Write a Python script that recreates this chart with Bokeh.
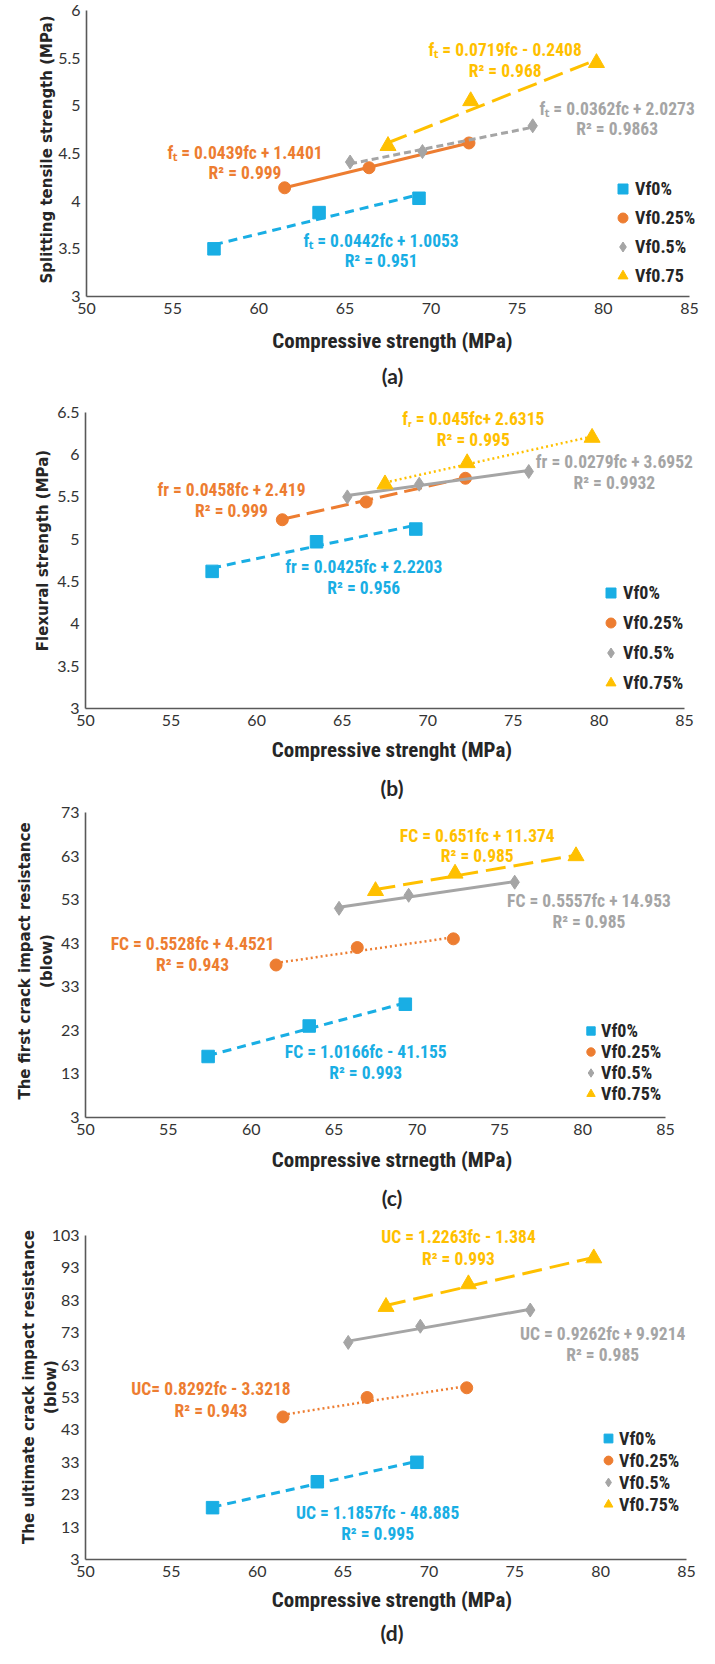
from bokeh.plotting import figure
from bokeh.models import Range1d, FixedTicker, Legend, LegendItem, Label, LinearAxis
from bokeh.embed import file_html
from bokeh.resources import INLINE

# ---------------- data ----------------
# compressive strength (MPa) for each fibre content
fc_vf0 = [57.4, 63.5, 69.3]
fc_vf025 = [61.5, 66.4, 72.2]
fc_vf05 = [65.3, 69.5, 75.9]
fc_vf075 = [67.5, 72.3, 79.6]

# (a) splitting tensile strength (MPa)
ft_vf0 = [3.50, 3.88, 4.03]
ft_vf025 = [4.14, 4.35, 4.61]
ft_vf05 = [4.41, 4.52, 4.79]
ft_vf075 = [4.58, 5.05, 5.45]
a_slopes = [0.0442, 0.0439, 0.0362, 0.0719]
a_intercepts = [1.0053, 1.4401, 2.0273, -0.2408]
a_eqs = ["f\u209c = 0.0442fc + 1.0053", "f\u209c = 0.0439fc + 1.4401",
         "f\u209c = 0.0362fc + 2.0273", "f\u209c = 0.0719fc - 0.2408"]
a_r2 = ["R\u00b2 = 0.951", "R\u00b2 = 0.999", "R\u00b2 = 0.9863", "R\u00b2 = 0.968"]
a_names = ["Vf0%", "Vf0.25%", "Vf0.5%", "Vf0.75"]
a_yticks = [3, 3.5, 4, 4.5, 5, 5.5, 6]

# (b) flexural strength (MPa)
fr_vf0 = [4.62, 4.97, 5.12]
fr_vf025 = [5.23, 5.44, 5.72]
fr_vf05 = [5.50, 5.65, 5.80]
fr_vf075 = [5.65, 5.90, 6.20]
b_slopes = [0.0425, 0.0458, 0.0279, 0.045]
b_intercepts = [2.2203, 2.419, 3.6952, 2.6315]
b_eqs = ["fr = 0.0425fc + 2.2203", "fr = 0.0458fc + 2.419",
         "fr = 0.0279fc + 3.6952", "f\u1d63 = 0.045fc+ 2.6315"]
b_r2 = ["R\u00b2 = 0.956", "R\u00b2 = 0.999", "R\u00b2 = 0.9932", "R\u00b2 = 0.995"]
b_yticks = [3, 3.5, 4, 4.5, 5, 5.5, 6, 6.5]

# (c) first crack impact resistance (blow)
fcr_vf0 = [17, 24, 29]
fcr_vf025 = [38, 42, 44]
fcr_vf05 = [51, 54, 57]
fcr_vf075 = [55, 59, 63]
c_slopes = [1.0166, 0.5528, 0.5557, 0.651]
c_intercepts = [-41.155, 4.4521, 14.953, 11.374]
c_eqs = ["FC = 1.0166fc - 41.155", "FC = 0.5528fc + 4.4521",
         "FC = 0.5557fc + 14.953", "FC = 0.651fc + 11.374"]
c_r2 = ["R\u00b2 = 0.993", "R\u00b2 = 0.943", "R\u00b2 = 0.985", "R\u00b2 = 0.985"]
c_yticks = [3, 13, 23, 33, 43, 53, 63, 73]

# (d) ultimate crack impact resistance (blow)
ucr_vf0 = [19, 27, 33]
ucr_vf025 = [47, 53, 56]
ucr_vf05 = [70, 75, 80]
ucr_vf075 = [81, 88, 96]
d_slopes = [1.1857, 0.8292, 0.9262, 1.2263]
d_intercepts = [-48.885, -3.3218, 9.9214, -1.384]
d_eqs = ["UC = 1.1857fc - 48.885", "UC= 0.8292fc - 3.3218",
         "UC = 0.9262fc + 9.9214", "UC = 1.2263fc - 1.384"]
d_r2 = ["R\u00b2 = 0.995", "R\u00b2 = 0.943", "R\u00b2 = 0.985", "R\u00b2 = 0.993"]
d_yticks = [3, 13, 23, 33, 43, 53, 63, 73, 83, 93, 103]

names = ["Vf0%", "Vf0.25%", "Vf0.5%", "Vf0.75%"]
x_ticks = [50, 55, 60, 65, 70, 75, 80, 85]

# ---------------- style ----------------
COLORS = ["#19AEE4", "#ED7D31", "#A5A5A5", "#FFC000"]
MARKERS = ["square", "circle", "diamond", "triangle"]
MSIZES = [12.5, 12, 14, 16]
NARROW = "Roboto Condensed, Lato"
TICK_FONT = "Lato"
YT_FONT = "DejaVu Sans"
FIG_W = 699
PAGE_M = 8

fcs = [fc_vf0, fc_vf025, fc_vf05, fc_vf075]


def panel(ys, slopes, intercepts, eqs, r2s, snames, dashes, widths, yticks,
          ytitle, xtitle, caption, lay, eq_pos, r2_dy, leg):
    # x: the axis runs 50..85, the frame continues a little to the right so
    # that the equation labels / legend are not clipped
    x0t, x1t = x_ticks[0], x_ticks[-1]
    frame_right = FIG_W - 1 + PAGE_M
    x_end = x1t + (frame_right - lay["px85"]) / (lay["px85"] - lay["px50"]) * (x1t - x0t)
    # y: the axis runs over the tick range, the frame continues upward
    y0t, y1t = yticks[0], yticks[-1]
    frame_top = lay["page_top"] + 2
    y_end = y1t + (lay["ft"] - frame_top) / (lay["fb"] - lay["ft"]) * (y1t - y0t)
    frame_h = lay["fb"] - frame_top
    bottom = lay["h"] - 2 - frame_h
    p = figure(width=FIG_W, height=lay["h"], x_range=Range1d(x0t, x_end),
               y_range=Range1d(y0t, y_end), output_backend="svg",
               toolbar_location=None, min_border_left=lay["px50"] - PAGE_M,
               min_border_right=1, min_border_top=2,
               min_border_bottom=bottom)
    p.outline_line_color = None
    p.grid.visible = False
    p.background_fill_color = "white"
    p.border_fill_color = "white"

    for ax in (p.xaxis[0], p.yaxis[0]):
        ax.major_tick_out = 0
        ax.major_tick_in = 0
        ax.minor_tick_out = 0
        ax.minor_tick_in = 0
        ax.axis_line_color = "#595959"
        ax.axis_line_width = 1.6
        ax.major_label_text_font = TICK_FONT
        ax.major_label_text_font_size = "16px"
        ax.major_label_text_color = "#333333"
        ax.axis_label_text_color = "#262626"
        ax.axis_label_text_font_style = "bold"
    p.xaxis.bounds = (x0t, x1t)
    p.yaxis.bounds = (y0t, y1t)
    p.xaxis.ticker = FixedTicker(ticks=x_ticks)
    p.yaxis.ticker = FixedTicker(ticks=yticks)
    p.yaxis.major_label_overrides = {t: f"{t:g}" for t in yticks}
    p.xaxis.major_label_standoff = 6
    p.yaxis.major_label_standoff = 6
    p.xaxis.axis_label = xtitle
    p.xaxis.axis_label_text_font = NARROW
    p.xaxis.axis_label_text_font_size = "21px"
    p.xaxis.axis_label_standoff = lay["xas"]
    p.yaxis.axis_label = ytitle
    p.yaxis.axis_label_text_font = YT_FONT
    p.yaxis.axis_label_text_font_size = "15px"
    p.yaxis.axis_label_standoff = lay["yas"]
    p.yaxis.axis_label_text_line_height = 1.2

    # caption "(a)" etc. as the label of a bare second axis below
    cap = LinearAxis(ticker=FixedTicker(ticks=[]), bounds=(x0t, x1t),
                     axis_line_color=None, major_tick_out=0, major_tick_in=0,
                     minor_tick_out=0, minor_tick_in=0, major_label_standoff=0,
                     axis_label=caption, axis_label_standoff=lay["cs"],
                     axis_label_text_font=TICK_FONT,
                     axis_label_text_font_style="bold",
                     axis_label_text_font_size="21px",
                     axis_label_text_color="#262626")
    p.add_layout(cap, "below")

    items = []
    for i in range(4):
        x = fcs[i]
        y = ys[i]
        xa, xb = min(x), max(x)
        tx = [xa, xb]
        ty = [slopes[i] * xa + intercepts[i], slopes[i] * xb + intercepts[i]]
        p.line(tx, ty, line_color=COLORS[i], line_width=widths[i],
               line_dash=dashes[i])
        r = p.scatter(x, y, marker=MARKERS[i], size=MSIZES[i],
                      fill_color=COLORS[i], line_color=COLORS[i])
        items.append(LegendItem(label=snames[i], renderers=[r]))
        ex, ey = eq_pos[i]
        for txt, yy in ((eqs[i], ey), (r2s[i], ey - r2_dy)):
            p.add_layout(Label(x=ex, y=yy, text=txt, text_align="center",
                               text_baseline="middle", text_color=COLORS[i],
                               text_font=NARROW, text_font_style="bold",
                               text_font_size="17.5px"))

    legend = Legend(items=items, location=(leg["x"], leg["y"]),
                    glyph_width=leg["g"], glyph_height=leg["g"],
                    spacing=leg["s"], padding=0, margin=0,
                    label_standoff=0, border_line_alpha=0,
                    background_fill_alpha=0,
                    label_text_font=NARROW, label_text_font_style="bold",
                    label_text_font_size="18px", label_text_color="#262626",
                    label_height=16)
    p.add_layout(legend, "center")
    return p


pa = panel([ft_vf0, ft_vf025, ft_vf05, ft_vf075], a_slopes, a_intercepts, a_eqs, a_r2,
           a_names, ["9 6", "solid", "7 4", "20 8"], [3, 3, 3, 3], a_yticks,
           "Splitting tensile strength (MPa)", "Compressive strength (MPa)", "(a)",
           dict(page_top=8, h=390, ft=18, fb=307, px50=94, px85=697,
                xas=12, cs=7, yas=-1),
           [(67.1, 3.586), (59.2, 4.51), (80.8, 4.97), (74.3, 5.58)], 0.215,
           dict(x=524, y=8, g=25, s=4))

pb = panel([fr_vf0, fr_vf025, fr_vf05, fr_vf075], b_slopes, b_intercepts, b_eqs, b_r2,
           names, ["9 6", "18 7", "solid", "2 3"], [3, 3, 3, 2.5], b_yticks,
           "Flexural strength (MPa)", "Compressive strenght (MPa)", "(b)",
           dict(page_top=398, h=412, ft=420, fb=720, px50=93, px85=692,
                xas=9, cs=10, yas=2),
           [(66.26, 4.669), (58.53, 5.58), (80.9, 5.918), (72.66, 6.415)], 0.248,
           dict(x=513, y=13, g=25, s=5))

pc = panel([fcr_vf0, fcr_vf025, fcr_vf05, fcr_vf075], c_slopes, c_intercepts, c_eqs, c_r2,
           names, ["9 6", "2 3", "solid", "20 8"], [3, 2.5, 3, 3], c_yticks,
           "The first crack impact resistance\n(blow)", "Compressive strnegth (MPa)", "(c)",
           dict(page_top=810, h=410, ft=820, fb=1126, px50=93, px85=673,
                xas=10, cs=10, yas=2),
           [(66.91, 18.12), (56.46, 42.76), (80.38, 52.74), (73.64, 67.7)], 4.8,
           dict(x=495, y=13, g=21, s=0))

pd_ = panel([ucr_vf0, ucr_vf025, ucr_vf05, ucr_vf075], d_slopes, d_intercepts, d_eqs, d_r2,
            names, ["9 6", "2 3", "solid", "20 8"], [3, 2.5, 3, 3], d_yticks,
            "The ultimate crack impact resistance\n(blow)", "Compressive strength (MPa)", "(d)",
            dict(page_top=1220, h=436, ft=1243, fb=1567, px50=93, px85=694,
                 xas=8, cs=5, yas=-11),
            [(67.01, 17.4), (57.31, 55.57), (80.12, 72.6), (71.72, 102.4)], 6.6,
            dict(x=512, y=44, g=22, s=0))

open("out.html", "w").write(file_html([pa, pb, pc, pd_], INLINE))
